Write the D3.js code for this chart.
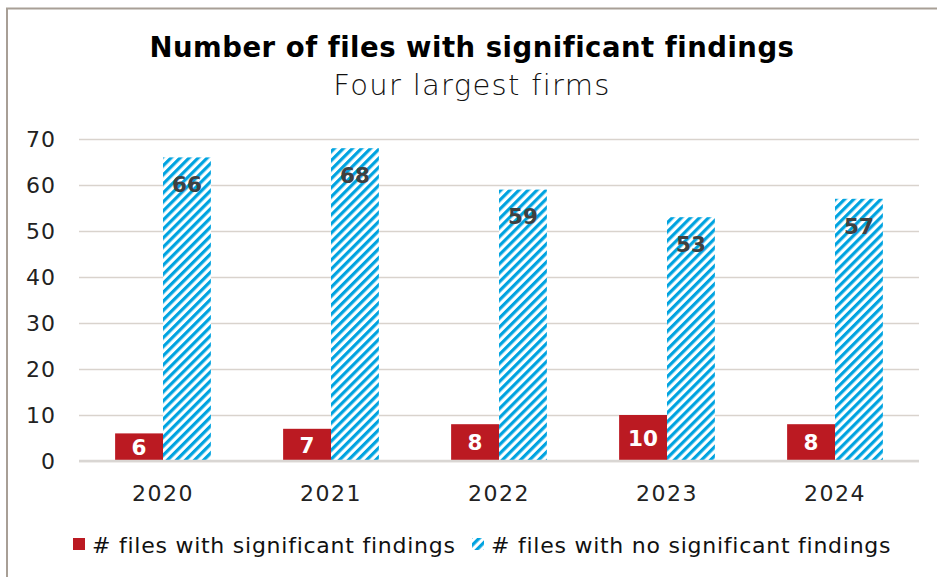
<!DOCTYPE html>
<html>
<head>
<meta charset="utf-8">
<script src="https://cdn.jsdelivr.net/npm/d3@7"></script>
<style>
  body { margin: 0; background: #fff; }
  text { font-family: "DejaVu Sans", sans-serif; }
</style>
</head>
<body>
<div id="chart"></div>
<script>
const years = ["2020", "2021", "2022", "2023", "2024"];
const significant = [6, 7, 8, 10, 8];
const noSignificant = [66, 68, 59, 53, 57];
const yTicks = [0, 10, 20, 30, 40, 50, 60, 70];
const seriesNames = ["# files with significant findings", "# files with no significant findings"];

const width = 937, height = 577;
const margin = { top: 139, right: 18, bottom: 116, left: 79 };
const red = "#bb1a22", blue = "#00a3e0";

const svg = d3.select("#chart").append("svg")
    .attr("width", width)
    .attr("height", height);

// hatch pattern for the second series
const defs = svg.append("defs");
const pat = defs.append("pattern")
    .attr("id", "hatch")
    .attr("patternUnits", "userSpaceOnUse")
    .attr("width", 6.4).attr("height", 6.4)
    .attr("patternTransform", "rotate(45)");
pat.append("rect").attr("width", 6.4).attr("height", 6.4).attr("fill", "#fff");
pat.append("rect").attr("x", 0).attr("width", 3.2).attr("height", 6.4).attr("fill", blue);

// outer frame (only top and left visible in the original)
svg.append("path")
    .attr("d", `M7,${height} V8.5 H${width}`)
    .attr("fill", "none")
    .attr("stroke", "#a89f96")
    .attr("stroke-width", 2);

svg.append("text")
    .attr("x", 472).attr("y", 57)
    .attr("text-anchor", "middle")
    .attr("font-size", 27.5).attr("font-weight", 700)
    .attr("letter-spacing", 0.5)
    .attr("fill", "#000")
    .text("Number of files with significant findings");
svg.append("text")
    .attr("x", 472).attr("y", 95)
    .attr("text-anchor", "middle")
    .attr("font-size", 29).attr("font-weight", 300)
    .attr("letter-spacing", 1.3)
    .attr("fill", "#111")
    .text("Four largest firms");

const g = svg.append("g").attr("transform", `translate(${margin.left},${margin.top})`);
const w = width - margin.left - margin.right;
const h = height - margin.top - margin.bottom;

const x = d3.scaleBand().domain(years).range([0, w]).paddingInner(0.43).paddingOuter(0.215);
const xSub = d3.scaleBand().domain([0, 1]).range([0, x.bandwidth()]);
const y = d3.scaleLinear().domain([0, 70]).range([h, 0]);

// gridlines + y labels
g.append("g")
    .call(d3.axisLeft(y).tickValues(yTicks).tickSize(-w).tickFormat(d3.format("d")))
    .call(a => a.select(".domain").remove())
    .call(a => a.selectAll(".tick line").attr("stroke", "#d9d3cd").attr("stroke-width", 1.5))
    .call(a => a.selectAll(".tick text").attr("x", -23).attr("font-size", 22).attr("fill", "#222")
        .attr("letter-spacing", 1)
        .style("font-family", "'DejaVu Sans', sans-serif"));

const rows = years.map((yr, i) => ({ yr, a: significant[i], b: noSignificant[i] }));

g.selectAll(".bar-a").data(rows).enter().append("rect")
    .attr("class", "bar-a")
    .attr("x", d => x(d.yr) + xSub(0))
    .attr("y", d => y(d.a))
    .attr("width", xSub.bandwidth())
    .attr("height", d => h - y(d.a))
    .attr("fill", red);

g.selectAll(".bar-b").data(rows).enter().append("rect")
    .attr("class", "bar-b")
    .attr("x", d => x(d.yr) + xSub(1))
    .attr("y", d => y(d.b))
    .attr("width", xSub.bandwidth())
    .attr("height", d => h - y(d.b))
    .attr("fill", "url(#hatch)");

// baseline
g.append("line")
    .attr("x1", 0).attr("x2", w)
    .attr("y1", h).attr("y2", h)
    .attr("stroke", "#d9d6d3").attr("stroke-width", 2.5);

// value labels
g.selectAll(".lab-a").data(rows).enter().append("text")
    .attr("x", d => x(d.yr) + xSub(0) + xSub.bandwidth() / 2)
    .attr("y", d => (y(d.a) + h) / 2)
    .attr("dy", "0.36em")
    .attr("text-anchor", "middle")
    .attr("font-size", 21.5).attr("font-weight", 700)
    .attr("fill", "#fff")
    .text(d => d.a);

g.selectAll(".lab-b").data(rows).enter().append("text")
    .attr("x", d => x(d.yr) + xSub(1) + xSub.bandwidth() / 2)
    .attr("y", d => y(d.b) + 27)
    .attr("dy", "0.36em")
    .attr("text-anchor", "middle")
    .attr("font-size", 21.5).attr("font-weight", 700)
    .attr("fill", "#404040")
    .text(d => d.b);

// x axis labels
g.selectAll(".xlab").data(years).enter().append("text")
    .attr("x", d => x(d) + x.bandwidth() / 2)
    .attr("y", h + 40)
    .attr("text-anchor", "middle")
    .attr("font-size", 22)
    .attr("letter-spacing", 1.5)
    .attr("fill", "#222")
    .text(d => d);

// legend
const legend = svg.append("g").attr("transform", "translate(73,553)");
legend.append("rect").attr("x", 0).attr("y", -15).attr("width", 12).attr("height", 12).attr("fill", red);
legend.append("text").attr("x", 19).attr("y", 0).attr("font-size", 22).attr("letter-spacing", 0.75)
    .attr("fill", "#111").text(seriesNames[0]);
legend.append("rect").attr("x", 399).attr("y", -15).attr("width", 12).attr("height", 12).attr("fill", "url(#hatch)");
legend.append("text").attr("x", 418).attr("y", 0).attr("font-size", 22).attr("letter-spacing", 0.75)
    .attr("fill", "#111").text(seriesNames[1]);
</script>
</body>
</html>
